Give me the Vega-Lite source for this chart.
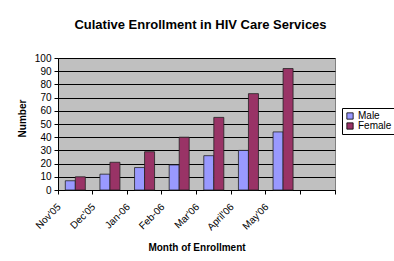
{
  "$schema": "https://vega.github.io/schema/vega-lite/v6.json",
  "width": 277,
  "height": 132,
  "autosize": {"type": "none"},
  "padding": {"left": 58, "top": 58, "right": 59, "bottom": 71},
  "background": "white",
  "title": {
    "text": "Culative Enrollment in HIV Care Services",
    "font": "Liberation Sans",
    "fontSize": 13,
    "fontWeight": "bold",
    "color": "black",
    "anchor": "middle",
    "offset": 21,
    "dx": 4
  },
  "data": {
    "values": [
      {"month": "Nov'05", "sex": "Male", "count": 7},
      {"month": "Nov'05", "sex": "Female", "count": 10},
      {"month": "Dec'05", "sex": "Male", "count": 12},
      {"month": "Dec'05", "sex": "Female", "count": 21},
      {"month": "Jan-06", "sex": "Male", "count": 17},
      {"month": "Jan-06", "sex": "Female", "count": 29},
      {"month": "Feb-06", "sex": "Male", "count": 19},
      {"month": "Feb-06", "sex": "Female", "count": 40},
      {"month": "Mar'06", "sex": "Male", "count": 26},
      {"month": "Mar'06", "sex": "Female", "count": 55},
      {"month": "April'06", "sex": "Male", "count": 30},
      {"month": "April'06", "sex": "Female", "count": 73},
      {"month": "May'06", "sex": "Male", "count": 44},
      {"month": "May'06", "sex": "Female", "count": 92}
    ]
  },
  "mark": {"type": "bar", "stroke": "#222222", "strokeWidth": 0.8},
  "encoding": {
    "x": {
      "field": "month",
      "type": "nominal",
      "sort": null,
      "scale": {
        "domain": ["Nov'05", "Dec'05", "Jan-06", "Feb-06", "Mar'06", "April'06", "May'06", " "],
        "paddingInner": 0,
        "paddingOuter": 0
      },
      "axis": {
        "title": "Month of Enrollment",
        "titleFont": "Liberation Sans",
        "titleFontSize": 10,
        "titleFontWeight": "bold",
        "titleColor": "black",
        "titleY": 57,
        "titleBaseline": "middle",
        "bandPosition": 1,
        "tickExtra": true,
        "labelAngle": -45,
        "labelAlign": "right",
        "labelBaseline": "middle",
        "labelOffset": -16,
        "labelPadding": 11,
        "labelFont": "Liberation Sans",
        "labelFontSize": 10,
        "labelColor": "black",
        "tickSize": 4,
        "tickColor": "black",
        "domainColor": "black",
        "grid": false
      }
    },
    "xOffset": {
      "field": "sex",
      "type": "nominal",
      "scale": {"domain": ["Male", "Female"], "paddingOuter": 0.73, "paddingInner": 0}
    },
    "y": {
      "field": "count",
      "type": "quantitative",
      "scale": {"domain": [0, 100]},
      "axis": {
        "values": [0, 10, 20, 30, 40, 50, 60, 70, 80, 90, 100],
        "title": "Number",
        "titleFont": "Liberation Sans",
        "titleFontSize": 10,
        "titleFontWeight": "bold",
        "titleColor": "black",
        "titleX": -31,
        "titleY": 60,
        "grid": true,
        "gridColor": "black",
        "gridOpacity": 1,
        "gridWidth": 1,
        "labelFont": "Liberation Sans",
        "labelFontSize": 10,
        "labelColor": "black",
        "labelPadding": 3,
        "tickSize": 4,
        "tickColor": "black",
        "domainColor": "black"
      }
    },
    "color": {
      "field": "sex",
      "type": "nominal",
      "scale": {"domain": ["Male", "Female"], "range": ["#9999FF", "#993366"]},
      "legend": {
        "title": null,
        "orient": "none",
        "legendX": 284,
        "legendY": 50,
        "strokeColor": "black",
        "fillColor": "white",
        "padding": 3,
        "rowPadding": 0,
        "symbolType": "square",
        "symbolSize": 40,
        "symbolStrokeColor": "black",
        "symbolStrokeWidth": 0.8,
        "labelFont": "Liberation Sans",
        "labelFontSize": 10,
        "labelColor": "black",
        "labelOffset": 3
      }
    }
  },
  "config": {
    "font": "Liberation Sans",
    "view": {"fill": "#C0C0C0", "stroke": "#808080", "strokeWidth": 1}
  }
}
